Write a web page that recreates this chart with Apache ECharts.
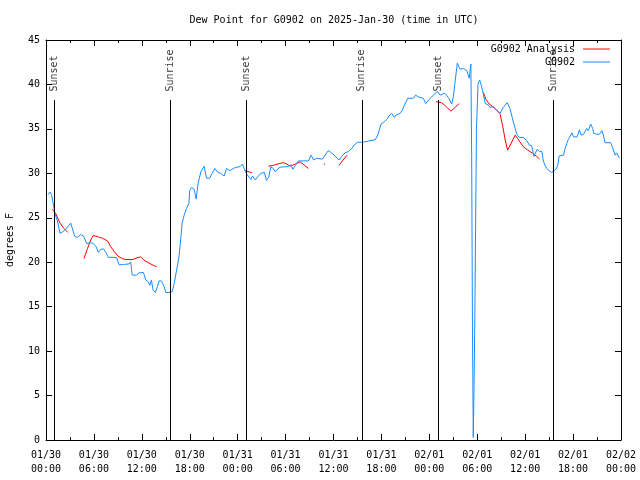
<!DOCTYPE html>
<html><head><meta charset="utf-8">
<script src="https://cdn.jsdelivr.net/npm/echarts@6/dist/echarts.min.js"></script>
<style>html,body{margin:0;padding:0;background:#fff}#c{width:640px;height:480px}</style>
</head><body><div id="c"></div>
<script>
const FONT = 'DejaVu Sans Mono';
const titleText = 'Dew Point for G0902 on 2025-Jan-30 (time in UTC)';
const yAxisName = 'degrees F';
const xTickLabels = ['01/30\n00:00','01/30\n06:00','01/30\n12:00','01/30\n18:00','01/31\n00:00','01/31\n06:00','01/31\n12:00','01/31\n18:00','02/01\n00:00','02/01\n06:00','02/01\n12:00','02/01\n18:00','02/02\n00:00'];
const seriesNames = ['G0902 Analysis', 'G0902'];

// hours since 2025-01-30 00:00 UTC
const obsTimes = [0.25,0.5,0.7,0.9,1.1,1.4,1.75,2.05,2.45,3.1,3.6,3.9,4.35,4.7,5.1,5.6,5.9,6.25,6.55,6.85,7.2,7.5,7.8,8.5,8.85,9.15,9.7,10.4,10.6,10.8,11.35,11.65,12.2,12.5,12.8,13.0,13.2,13.4,13.7,13.95,14.15,14.45,14.8,15.0,15.4,15.8,16.05,16.35,16.65,16.9,17.05,17.3,17.6,17.9,18.0,18.25,18.55,18.8,19.05,19.4,19.8,20.1,20.5,20.8,21.15,21.5,21.9,22.3,22.6,23.05,23.45,23.9,24.3,24.6,24.85,25.0,25.25,25.4,25.65,25.85,26.2,26.5,26.9,27.35,27.6,27.9,28.15,28.45,28.7,29.3,30.15,30.4,30.7,30.9,31.2,31.6,32.85,33.2,33.5,33.9,34.6,34.95,35.35,35.75,36.2,36.7,37.0,37.45,37.85,38.3,38.6,39.0,39.75,40.7,41.2,41.55,41.95,42.35,42.65,42.95,43.3,43.6,43.8,44.35,44.6,44.95,45.3,46.0,46.3,46.6,46.85,47.25,47.55,47.9,48.3,48.7,49.05,49.35,49.6,49.95,50.2,50.45,50.6,50.8,51.0,51.2,51.5,51.85,52.25,52.7,53.0,53.2,53.3,53.4,53.5,53.6,53.7,53.8,53.9,54.1,54.3,54.5,54.75,55.0,55.4,55.6,56.0,56.45,56.85,57.25,57.75,58.1,58.45,58.75,59.0,59.35,59.75,60.2,60.5,60.8,60.95,61.1,61.35,61.5,61.8,62.1,62.25,62.45,62.7,63.0,63.3,63.5,63.85,64.1,64.25,64.4,64.8,65.0,65.2,65.4,65.6,65.85,66.05,66.25,66.5,66.8,67.0,67.3,67.7,67.9,68.2,68.45,68.6,68.95,69.3,69.6,69.8,70.0,70.7,70.95,71.25,71.45,71.65,71.8];
const obsDewPoint = [27.6,27.9,27.6,26.6,25.5,24.75,23.25,23.4,23.7,24.4,22.9,22.8,23.1,22.95,22.1,22.2,22.1,21.8,21.1,21.45,21.5,21.1,20.55,20.55,20.5,19.7,19.75,19.8,20.05,18.55,18.55,18.8,18.85,18.0,17.8,17.4,18.0,16.9,16.6,17.25,17.9,17.9,17.25,16.6,16.6,16.7,17.6,19.1,20.6,22.9,24.4,25.3,26.05,26.6,28.1,28.4,28.2,27.1,28.9,30.2,30.8,29.45,29.45,30.0,30.55,30.1,30.0,29.7,30.55,30.3,30.55,30.7,30.75,31.05,30.45,30.1,29.9,29.6,29.3,29.7,29.25,29.6,30.0,30.1,29.2,29.6,30.75,30.55,30.2,30.7,30.75,30.55,30.95,30.45,30.85,31.4,31.4,32.05,31.5,31.7,31.6,32.05,32.55,32.3,31.95,31.5,31.9,32.3,32.45,32.8,33.2,33.5,33.5,33.7,33.75,34.3,35.55,35.8,36.05,36.45,36.75,36.3,36.55,36.75,37.1,37.8,38.45,38.45,38.8,38.6,38.8,38.45,37.85,38.25,38.6,39.0,39.2,38.8,38.7,39.0,38.95,38.45,38.6,37.8,38.6,40.1,42.4,41.7,41.8,41.55,40.7,42.3,32.0,12.75,0.3,6.0,13.9,24.75,34.9,40.1,40.5,39.9,39.0,37.85,37.7,37.4,37.5,37.1,36.75,37.4,37.95,37.3,36.0,35.05,34.3,34.0,34.05,33.7,33.2,33.1,32.6,31.9,31.9,32.7,32.45,32.45,31.5,30.95,30.55,30.3,30.1,30.2,30.45,30.95,31.95,32.05,32.05,32.8,33.35,33.8,33.8,34.55,34.1,34.05,34.1,34.9,34.3,34.4,35.05,34.8,35.55,35.05,34.5,34.4,34.4,34.8,34.3,33.45,33.45,32.9,32.05,32.3,31.95,31.7];

// null marks a gap in the analysis line
const anaTimes = [0.8,1.2,1.75,2.25,2.75,3.5,4.75,5.2,5.6,5.9,6.4,7.05,7.7,8.1,8.5,9.0,9.55,10.0,10.9,11.4,11.85,12.25,12.9,13.45,13.85,20,24.9,25.3,25.8,26.8,27.85,28.45,29.2,29.7,30.15,30.55,30.95,31.4,31.8,32.3,32.85,33.8,34.8,34.95,35.8,36.7,37.2,37.7,44,48.85,49.55,50.1,50.7,51.2,51.75,53,54.75,55.1,55.5,56.1,56.85,57.2,57.5,57.8,58.2,58.75,59.15,59.75,60.35,60.95,61.45,61.8];
const anaDewPoint = [25.95,25.5,24.4,23.8,23.35,null,20.4,21.55,22.5,23.0,22.9,22.7,22.4,21.75,21.25,20.7,20.4,20.3,20.3,20.5,20.6,20.25,19.9,19.65,19.5,null,30.3,30.2,30.05,null,30.8,30.9,31.1,31.2,31.05,30.8,30.95,31.1,31.3,30.95,30.55,null,31.05,31.0,null,30.9,31.5,32.05,null,38.05,37.95,37.5,37.0,37.4,37.85,null,39.1,38.3,37.8,37.4,36.7,35.25,33.75,32.6,33.3,34.3,33.8,33.0,32.6,32.25,31.9,31.6];

const sunTimes = [1.05, 15.55, 25.05, 39.55, 49.1, 63.5];
const sunNames = ['Sunset','Sunrise','Sunset','Sunrise','Sunset','Sunrise'];
const sunLineTop = 38.25;
const sunLabelBase = 39.2;

const obsData = obsTimes.map((t, i) => [t, obsDewPoint[i]]);
const anaData = anaTimes.map((t, i) => [t, anaDewPoint[i] === null ? '-' : anaDewPoint[i]]);

const chart = echarts.init(document.getElementById('c'), null, {renderer: 'canvas'});
const txt = {fontFamily: FONT, fontSize: 10, color: '#000'};
const baseX = {
  type: 'value', min: 0, max: 72, interval: 6,
  axisLine: {show: true, onZero: false, lineStyle: {color: '#000', width: 1}},
  axisTick: {show: true, inside: true, length: 6, lineStyle: {color: '#000'}},
  minorTick: {show: true, splitNumber: 2, length: 3, lineStyle: {color: '#000'}},
  splitLine: {show: false}
};
const baseY = {
  type: 'value', min: 0, max: 45, interval: 5,
  axisLine: {show: true, onZero: false, lineStyle: {color: '#000', width: 1}},
  axisTick: {show: true, inside: true, length: 6, lineStyle: {color: '#000'}},
  splitLine: {show: false}
};

chart.setOption({
  animation: false,
  backgroundColor: '#fff',
  title: {text: titleText, left: 329, top: 10, textAlign: 'center', textStyle: Object.assign({fontWeight: 'normal'}, txt)},
  grid: {left: 46, right: 19, top: 40, bottom: 40, containLabel: false, outerBoundsMode: 'none'},
  legend: {
    right: 30, top: 44, orient: 'vertical', align: 'right', itemGap: 3, padding: 0,
    itemWidth: 27, itemHeight: 1, icon: 'rect',
    textStyle: Object.assign({padding: [0, 3, 0, 0]}, txt),
    data: seriesNames
  },
  xAxis: [
    Object.assign({}, baseX, {position: 'bottom', axisLabel: Object.assign({margin: 8, lineHeight: 14, formatter: v => xTickLabels[Math.round(v / 6)]}, txt)}),
    Object.assign({}, baseX, {position: 'top', axisLabel: {show: false}})
  ],
  yAxis: [
    Object.assign({}, baseY, {position: 'left', name: yAxisName, nameLocation: 'middle', nameGap: 31, nameTextStyle: txt, axisLabel: Object.assign({margin: 6}, txt)}),
    Object.assign({}, baseY, {position: 'right', axisLabel: {show: false}})
  ],
  series: [
    {name: seriesNames[0], type: 'line', data: anaData, showSymbol: false, symbol: 'none', connectNulls: false,
     lineStyle: {color: '#ff0000', width: 1}, itemStyle: {color: '#ff0000'}, z: 3},
    {name: seriesNames[1], type: 'line', data: obsData, showSymbol: false, symbol: 'none',
     lineStyle: {color: '#1a8cff', width: 1}, itemStyle: {color: '#1a8cff'}, z: 4},
    {name: 'sun', type: 'scatter', symbol: 'circle', symbolSize: 1, itemStyle: {color: 'rgba(0,0,0,0)'}, silent: true, z: 5,
     data: sunTimes.map((t, i) => [t, sunLabelBase, sunNames[i]]),
     label: Object.assign({show: true, position: 'inside', align: 'left', verticalAlign: 'middle', rotate: 90, formatter: p => p.data[2]}, txt),
     labelLayout: {hideOverlap: false},
     markLine: {silent: true, symbol: ['none', 'none'], label: {show: false},
       lineStyle: {color: '#000', width: 1, type: 'solid'},
       data: sunTimes.map(t => [{coord: [t, 0]}, {coord: [t, sunLineTop]}])}
    }
  ]
});
</script>
</body></html>
